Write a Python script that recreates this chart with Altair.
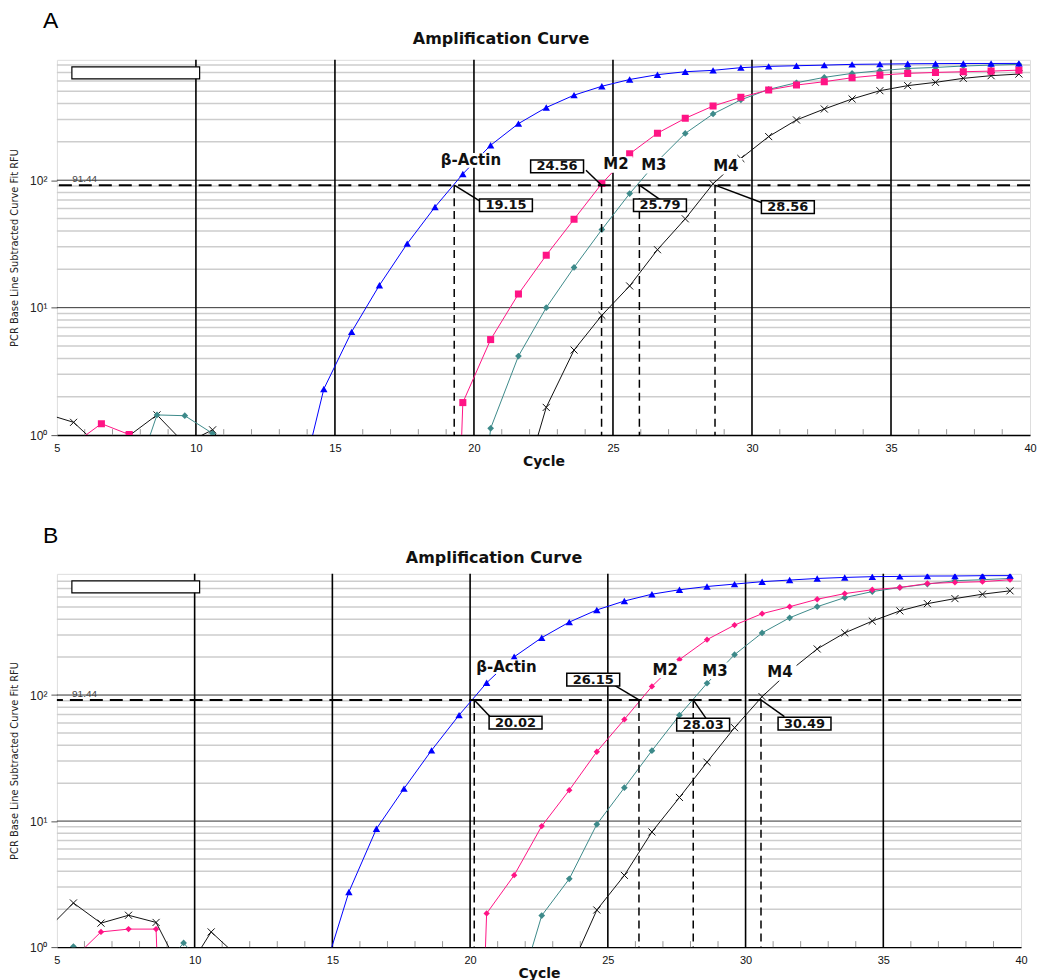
import altair as alt
import pandas as pd

# ---------------- data ----------------
cycles = [4.6, 5.6, 6.6, 7.6, 8.6, 9.6, 10.6, 11.6, 12.6, 13.6, 14.6, 15.6,
          16.6, 17.6, 18.6, 19.6, 20.6, 21.6, 22.6, 23.6, 24.6, 25.6, 26.6, 27.6,
          28.6, 29.6, 30.6, 31.6, 32.6, 33.6, 34.6, 35.6, 36.6, 37.6, 38.6, 39.6]

# Panel A (RFU)
a_actin = [None, None, None, None, None, None, None, None, None, 0.29, 2.30, 6.46,
           15.0, 31.8, 61.7, 112, 188, 278, 372, 465, 546, 617, 673, 710,
           728, 764, 782, 791, 800, 811, 815, 820, 822, 824, 824, 825]
a_m2 = [None, 0.85, 1.23, 1.01, 0.6, 0.3, 0.3, 0.3, 0.3, 0.3, 0.3, 0.3,
        0.3, 0.3, 0.000001, 1.80, 5.62, 12.8, 25.8, 49.4, 94.2, 161, 234, 306,
        382, 447, 511, 558, 593, 637, 668, 689, 701, 710, 718, 731]
a_m3 = [None, 0.3, 0.3, 0.33, 1.44, 1.42, 1.03, 0.3, 0.3, 0.3, 0.3, 0.3,
        0.3, 0.3, 0.3, 0.01, 1.13, 4.17, 10.0, 20.7, 41.0, 78.5, 141, 233,
        331, 427, 516, 582, 641, 689, 723, 753, 767, 787, 800, 811]
a_m4 = [1.47, 1.26, 0.79, 0.99, 1.44, 0.855, 1.10, 0.5, 0.3, 0.3, 0.3, 0.3,
        0.3, 0.3, 0.3, 0.3, 0.3, 0.3, 1.65, 4.65, 8.71, 14.8, 28.5, 49.8,
        93.8, 148, 220, 297, 362, 434, 504, 552, 586, 630, 661, 681]

# Panel B (RFU)
b_actin = [None, None, None, None, None, None, None, None, None, None, 0.54, 2.74,
           8.69, 18.1, 36.4, 69.3, 125, 201, 285, 379, 473, 557, 631, 684,
           726, 759, 793, 817, 841, 857, 869, 873, 879, 880, 885, 886]
b_m2 = [None, 0.81, 1.32, 1.39, 1.39, 0.000001, 0.3, 0.3, 0.3, 0.3, 0.3, 0.3,
        0.3, 0.3, 0.3, 0.000001, 1.85, 3.72, 9.12, 17.6, 35.5, 64.1, 117, 191,
        275, 359, 442, 502, 575, 638, 684, 713, 767, 782, 793, 822]
b_m3 = [0.5, 1.01, 0.5, 0.3, 0.6, 1.08, 0.6, 0.3, 0.3, 0.3, 0.3, 0.3,
        0.3, 0.3, 0.3, 0.3, 0.3, 0.33, 1.78, 3.48, 9.42, 18.4, 36.2, 69.2,
        124, 209, 311, 410, 502, 593, 662, 713, 759, 807, 822, 841]
b_m4 = [1.35, 2.24, 1.55, 1.79, 1.57, 0.59, 1.32, 0.83, 0.3, 0.3, 0.3, 0.3,
        0.3, 0.3, 0.3, 0.3, 0.3, 0.3, 0.3, 0.64, 1.97, 3.71, 8.2, 15.4,
        29.3, 55.1, 97, 155, 232, 311, 386, 465, 531, 582, 631, 671]

threshold = 91.44
threshold_text = "91.44"
threshold_label_x = 5.55
panel_title = "Amplification Curve"

# Ct annotations, panel A
a_ct_text = ["19.15", "24.56", "25.79", "28.56"]
a_ct_x = [19.29, 24.59, 25.95, 28.67]
a_box_x = [21.15, 22.99, 26.69, 31.29]
a_box_y = [63.6, 128.5, 63.6, 61.4]
a_lead_x = [20.22, 24.03, 26.76, 30.36]
a_lead_y = [68.4, 119.7, 68.9, 66.5]
a_name = ["β-Actin", "M2", "M3", "M4"]
a_name_x = [19.89, 25.11, 26.47, 29.06]
a_name_y = [143, 133, 131, 128.5]

# Ct annotations, panel B
b_ct_text = ["20.02", "26.15", "28.03", "30.49"]
b_ct_x = [20.15, 26.13, 28.10, 30.56]
b_box_x = [21.65, 24.47, 28.46, 32.14]
b_box_y = [60.5, 132.7, 58.3, 59.4]
b_lead_x = [20.71, 25.2, 28.57, 31.41]
b_lead_y = [67.9, 121, 65, 67.5]
b_name = ["β-Actin", "M2", "M3", "M4"]
b_name_x = [21.32, 27.08, 28.89, 31.25]
b_name_y = [168, 159, 156, 151]

grid_minor = [2, 3, 4, 5, 6, 7, 8, 9, 20, 30, 40, 50, 60, 70, 80, 90,
              200, 300, 400, 500, 600, 700, 800]
grid_major = [10, 100]
grid_vert = [10, 15, 20, 25, 30, 35]
x_label_values = [5, 10, 15, 20, 25, 30, 35, 40]
x_minor_ticks = [6, 7, 8, 9, 11, 12, 13, 14, 16, 17, 18, 19, 21, 22, 23, 24,
                 26, 27, 28, 29, 31, 32, 33, 34, 36, 37, 38, 39]
y_label_values = [1, 10, 100]

# ---------------- styles ----------------
COLORS = {"actin": "#0000ff", "m2": "#ff1485", "m3": "#3d8a8a", "m4": "#111111"}
XPATH = "M-1,-1L1,1M-1,1L1,-1"
BOXPATH = "M-1,-0.24L1,-0.24L1,0.24L-1,0.24Z"
BOLD = "DejaVu Sans"
REG = "Liberation Sans"


def panel(letter, letter_y, title_x, title_y, vals, shapes, ct_x, ct_text, box_x, box_y,
          lead_x, lead_y, nm_text, nm_x, nm_y, ymax, W, H):
    xs = alt.Scale(domain=[5, 40], nice=False, zero=False)
    ys = alt.Scale(type="log", domain=[1, ymax], nice=False)
    xax = alt.Axis(values=x_label_values, format="d", ticks=False, grid=False,
                   domain=True, domainColor="black", domainWidth=1.5,
                   labelFont=REG, labelFontSize=11, labelColor="#111", labelPadding=7,
                   labelFlush=False,
                   title="Cycle", titleFont=BOLD, titleFontSize=14, titleFontWeight="bold",
                   titleColor="#111", titlePadding=1)
    yax = alt.Axis(values=y_label_values,
                   labelExpr="datum.value == 1 ? '10⁰' : (datum.value == 10 ? '10¹' : '10²')",
                   ticks=True, tickSize=6, tickColor="#555", grid=False, domain=False,
                   labelFont=REG, labelFontSize=12, labelColor="#222", labelPadding=4,
                   labelFlush=False,
                   title="PCR Base Line Subtracted Curve Fit RFU",
                   titleFont="Liberation Sans Narrow, DejaVu Sans Condensed, sans-serif",
                   titleFontSize=11, titleFontWeight="normal", titleColor="#222",
                   titlePadding=10)

    def X(f):
        return alt.X(f, type="quantitative", scale=xs, axis=xax)

    def Y(f):
        return alt.Y(f, type="quantitative", scale=ys, axis=yax)

    minor = alt.Chart(pd.DataFrame({"v": grid_minor})).mark_rule(
        color="#cdcdcd", strokeWidth=1.5).encode(y=Y("v"))
    major = alt.Chart(pd.DataFrame({"v": grid_major})).mark_rule(
        color="#333333", strokeWidth=1).encode(y=Y("v"))
    vert = alt.Chart(pd.DataFrame({"c": grid_vert})).mark_rule(
        color="black", strokeWidth=1.6).encode(x=X("c"))
    ticks = alt.Chart(pd.DataFrame({"c": x_minor_ticks})).mark_rule(
        color="#999999", strokeWidth=1).encode(x=X("c"), y=alt.value(H - 6), y2=alt.value(H))

    layers = [minor, major, vert, ticks]
    for key in ["m4", "m3", "m2", "actin"]:
        df = pd.DataFrame({"c": cycles, "v": vals[key]}).dropna()
        base = alt.Chart(df).encode(x=X("c"), y=Y("v"))
        layers.append(base.mark_line(color=COLORS[key], strokeWidth=1, clip=True))
        if key == "m4":
            layers.append(base.mark_point(shape=XPATH, filled=False, color=COLORS[key],
                                          strokeWidth=1, size=50, opacity=1, clip=True))
        else:
            shp, sz = shapes[key]
            layers.append(base.mark_point(shape=shp, filled=True, color=COLORS[key],
                                          size=sz, opacity=1, clip=True))

    ann = pd.DataFrame({"ct": ct_x, "thr": [threshold] * len(ct_x), "floor": [1] * len(ct_x),
                        "lx": lead_x, "ly": lead_y, "bx": box_x, "by": box_y, "bt": ct_text})
    names = pd.DataFrame({"nx": nm_x, "ny": nm_y, "nt": nm_text})
    names["shape"] = ["M-1,-0.21H1V0.21H-1Z" if len(t) > 2 else "M-1,-0.5H1V0.5H-1Z"
                      for t in nm_text]
    names["size"] = [4900 if len(t) > 2 else 1100 for t in nm_text]

    thr = alt.Chart(pd.DataFrame({"v": [threshold]})).mark_rule(
        color="black", strokeWidth=2, strokeDash=[13, 7]).encode(y=Y("v"))
    dvert = alt.Chart(ann).mark_rule(color="black", strokeWidth=1.5, strokeDash=[8, 5]).encode(
        x=X("ct"), y=Y("thr"), y2="floor:Q")
    lead = alt.Chart(ann).mark_rule(color="black", strokeWidth=1.5).encode(
        x=X("ct"), y=Y("thr"), x2="lx:Q", y2="ly:Q")
    nbg = alt.Chart(names).mark_point(filled=True, color="white", opacity=1, strokeWidth=0).encode(
        x=X("nx"), y=Y("ny"),
        shape=alt.Shape("shape:N", scale=None, legend=None),
        size=alt.Size("size:Q", scale=None, legend=None))
    ntext = alt.Chart(names).mark_text(font=BOLD, fontWeight="bold", fontSize=15,
                                       color="#111", baseline="middle").encode(
        x=X("nx"), y=Y("ny"), text="nt:N")
    boxes = alt.Chart(ann).mark_point(shape=BOXPATH, filled=True, color="white",
                                      stroke="black", strokeWidth=1.5, size=2809,
                                      opacity=1).encode(x=X("bx"), y=Y("by"))
    btext = alt.Chart(ann).mark_text(font=BOLD, fontWeight="bold", fontSize=13,
                                     color="#111", baseline="middle").encode(
        x=X("bx"), y=Y("by"), text="bt:N")
    tlabel = alt.Chart(pd.DataFrame({"x": [threshold_label_x], "y": [threshold],
                                     "t": [threshold_text]})).mark_text(
        font=REG, fontSize=10, color="#444", align="left", baseline="bottom", dy=-1).encode(
        x=X("x"), y=Y("y"), text="t:N")
    legbox = alt.Chart(pd.DataFrame({"k": [0]})).mark_rect(
        fill="white", stroke="black", strokeWidth=1.2).encode(
        x=alt.value(15), x2=alt.value(143), y=alt.value(7), y2=alt.value(19))
    let = alt.Chart(pd.DataFrame({"t": [letter]})).mark_text(
        font=REG, fontSize=23, color="black", align="left", baseline="alphabetic").encode(
        x=alt.value(-14), y=alt.value(letter_y), text="t:N")
    ttl = alt.Chart(pd.DataFrame({"t": [panel_title]})).mark_text(
        font=BOLD, fontSize=16, fontWeight="bold", color="#111", align="center",
        baseline="alphabetic").encode(x=alt.value(title_x), y=alt.value(title_y), text="t:N")

    layers += [thr, dvert, lead, nbg, ntext, boxes, btext, tlabel, legbox, let, ttl]
    return alt.layer(*layers).properties(width=W, height=H)


pA = panel("A", -32, 445, -16,
           {"actin": a_actin, "m2": a_m2, "m3": a_m3, "m4": a_m4},
           {"actin": ("triangle-up", 55), "m2": ("square", 50), "m3": ("diamond", 45)},
           a_ct_x, a_ct_text, a_box_x, a_box_y, a_lead_x, a_lead_y,
           a_name, a_name_x, a_name_y, 880, 975, 376)
pB = panel("B", -31, 438, -11,
           {"actin": b_actin, "m2": b_m2, "m3": b_m3, "m4": b_m4},
           {"actin": ("triangle-up", 55), "m2": ("diamond", 40), "m3": ("diamond", 45)},
           b_ct_x, b_ct_text, b_box_x, b_box_y, b_lead_x, b_lead_y,
           b_name, b_name_x, b_name_y, 915, 966, 374)

chart = alt.vconcat(pA, pB, spacing=55).properties(
    padding={"left": 0, "top": 0, "right": 5, "bottom": 0}
).configure_view(stroke="black", strokeWidth=1.5).configure(background="white")

chart.save("out.html", embed_options={"renderer": "svg", "actions": False})
